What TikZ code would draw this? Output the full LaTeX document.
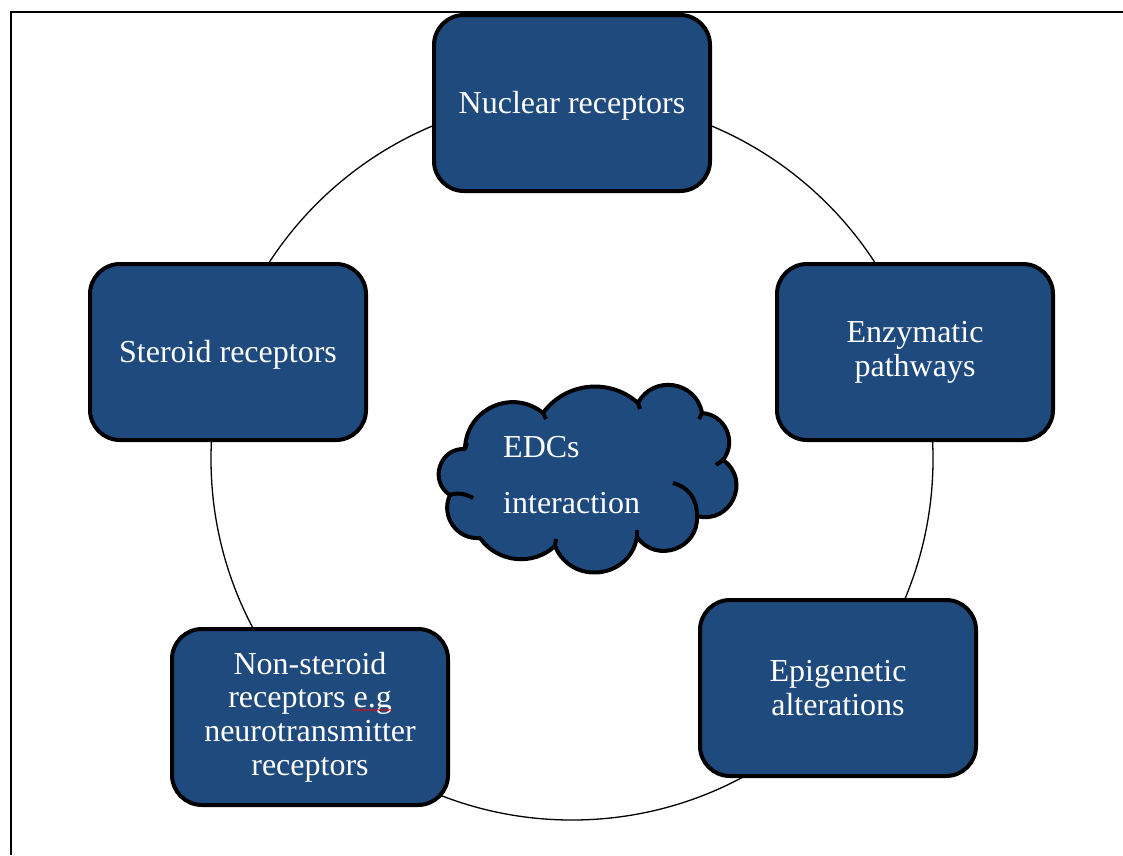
\documentclass[tikz,border=0pt]{standalone}
\usepackage{fontspec}
\setmainfont{Liberation Serif}
\usetikzlibrary{decorations.pathmorphing}
\definecolor{boxblue}{RGB}{31,74,126}
\begin{document}
\begin{tikzpicture}[x=1pt,y=-1pt,
  topic/.style={draw=black,line width=4pt,fill=boxblue,rounded corners=30pt,
    minimum width=276pt,minimum height=176pt,text=white,align=center,
    inner sep=0pt,font=\fontsize{32}{33.7}\selectfont,
    execute at begin node={\rule{0pt}{28pt}}},
  ring/.style={line width=1.3pt},
  frameline/.style={line width=2pt},
  cloudline/.style={draw=black,line width=4pt,line join=round}]
\useasboundingbox (0,0) rectangle (1123,855);
% page frame
\draw[frameline] (11,855) -- (11,12) -- (1123,12);
% ring linking the five mechanisms
\draw[ring] (572,459) circle[radius=361pt];
% mechanisms
\node[topic] (nuc) at (572,103) {Nuclear receptors};
\node[topic] (ster) at (228,352) {Steroid receptors};
\node[topic] (enz) at (915,352) {Enzymatic\\pathways};
\node[topic] (epi) at (838,688) {Epigenetic\\alterations};
\node[topic] (non) at (310,717) {Non-steroid\\receptors e.g\\neurotransmitter\\receptors};
% spell-check mark under "e.g"
\draw[red,line width=0.6pt,decorate,decoration={snake,segment length=3pt,amplitude=0.7pt}]
  ([xshift=43pt,yshift=7pt]non.center) -- ([xshift=82pt,yshift=7pt]non.center);
% central cloud: ten puffs between the notches
\coordinate (cA) at (465,449);
\coordinate (cB) at (543,413);
\coordinate (cC) at (638,403);
\coordinate (cD) at (702,413);
\coordinate (cE) at (723,460);
\coordinate (cF) at (697,516);
\coordinate (cG) at (637,537);
\coordinate (cH) at (555,546);
\coordinate (cI) at (480,538);
\coordinate (cJ) at (450,495);
\path[cloudline,fill=boxblue] (cJ)
  to[bend left=75,looseness=1.35] (cA)
  to[bend left=64,looseness=1.19] (cB)
  to[bend left=48,looseness=1.02] (cC)
  to[bend left=71,looseness=1.28] (cD)
  to[bend left=62,looseness=1.16] (cE)
  to[bend left=80,looseness=1.45] (cF)
  to[bend left=74,looseness=1.33] (cG)
  to[bend left=74,looseness=1.33] (cH)
  to[bend left=49,looseness=1.02] (cI)
  to[bend left=60,looseness=1.13] (cJ)
  -- cycle;
% inner folds of the cloud
\draw[cloudline] (cJ) .. controls (458,492) and (466,494) .. (473,498);
\draw[cloudline] (673,483) .. controls (688,487) and (697,498) .. (cF);
\draw[cloudline] (cA) -- ++(2,-6);
\draw[cloudline] (cB) -- ++(3,6);
\draw[cloudline] (cC) -- ++(2,6);
\draw[cloudline] (cD) -- ++(-3,6);
\draw[cloudline] (cE) -- ++(-7,5);
\draw[cloudline] (cG) -- ++(0,-7);
\draw[cloudline] (cH) -- ++(1,-7);
\node[text=white,align=left,anchor=west,inner sep=0pt,font=\fontsize{32}{33.7}\selectfont]
  (edctext) at (503,475) {EDCs\\[22pt]interaction};
\end{tikzpicture}
\end{document}
